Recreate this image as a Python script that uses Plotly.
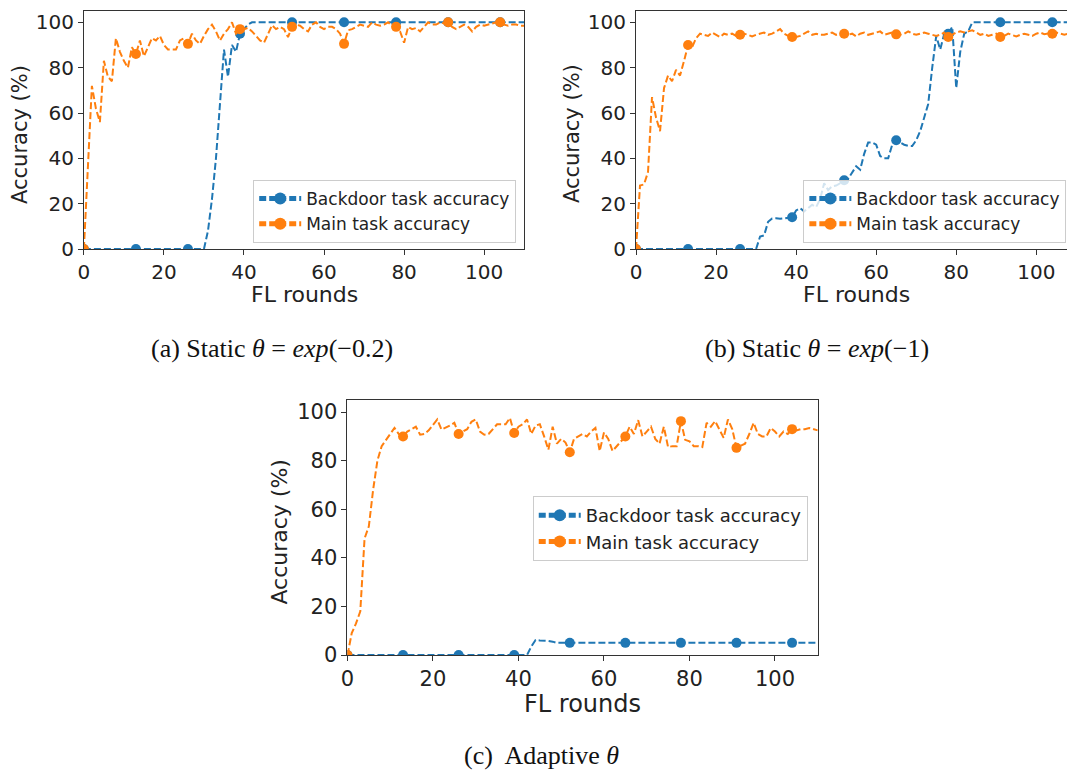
import plotly.graph_objects as go

rounds = list(range(0, 111))

# (a) Static theta = exp(-0.2)
a_backdoor = [0]*31 + [8, 22, 40, 62, 88, 76, 90, 87, 95, 97, 99] + [100]*69
a_main = [0, 38, 72, 62, 56, 83, 76, 74, 93, 87, 83, 80, 89, 86, 92, 85, 89, 93, 92, 94,
          90, 88, 88, 88, 92, 93, 90.5, 95, 92, 90.5, 94, 97, 99, 96, 92, 95, 97, 100, 95, 97,
          97, 97.6, 96, 94, 92, 91, 95, 98.7, 97, 98, 97, 93.5, 98, 99, 98.5, 97, 96, 99, 100, 98,
          97, 98, 98, 97, 95, 90.5, 96.5, 97, 98, 99, 98.5, 98, 100, 99, 98.5, 99, 100, 98.5, 98, 96,
          91, 98, 97, 97.5, 96, 98, 100, 99, 99, 100, 99.5, 100, 98, 97, 98, 99, 98, 96, 98, 99,
          98.5, 99, 99.5, 100, 100, 99, 98.5, 99, 99, 98.5, 98.5]

# (b) Static theta = exp(-1)
b_backdoor = [0]*31 + [5.5, 6, 12, 13.5, 13.6, 13.3, 13.5, 13.8, 14, 17, 18, 16.6, 18, 19.5, 18.5,
                       22, 29, 26, 27.7, 28, 29, 30.3, 31, 34, 36.5, 35, 42, 47, 47, 46, 41, 40, 40,
                       46, 48, 47, 46, 45.5, 45.4, 48, 52, 58, 64, 80, 94, 88, 95, 95, 98, 71, 87, 95,
                       96] + [100]*27
b_main = [0, 28, 28.5, 34, 67, 58, 52, 71, 76.5, 74, 79, 76.5, 83, 90, 89, 93, 95, 94.5, 94, 95.5,
          94.5, 93.5, 95, 94.5, 95, 94, 94.5, 95, 94.5, 93.8, 94.5, 95, 95.5, 94.5, 95, 96, 97, 95, 94, 93.5,
          93.5, 94, 95, 96, 94.5, 95, 94.5, 94.5, 95, 95.5, 94.5, 95, 95, 94.5, 95, 93.8, 95, 95.5, 94.5, 95,
          95.5, 96, 94.5, 95, 95.5, 94.7, 94.5, 95, 96, 95, 94.5, 95, 95.5, 95, 94.5, 94, 94.5, 95.5, 93.5, 94.5,
          95.5, 96, 95.5, 96, 96.5, 95.5, 94.5, 95, 94, 94.5, 95, 93.5, 94, 95, 94.5, 93.8, 94.5, 95, 94.5, 94,
          95, 95.5, 94.8, 95, 95, 95.5, 95, 94.5, 95, 95, 95]

# (c) Adaptive theta
c_backdoor = [0]*43 + [3.5, 6.2, 6, 6, 5.8, 5.5] + [5]*62
c_main = [0, 9, 13, 18, 48, 53, 68, 80, 86, 88.5, 91, 93.5, 91, 90, 92, 93, 94, 90.7, 91, 92.5,
          95, 97, 92.8, 93.5, 94.5, 95.6, 91, 92, 93, 96, 97, 92, 90.7, 91, 93, 95, 95, 95, 97.6, 91.4,
          94, 95, 97, 91, 94.5, 95, 90, 84.5, 94, 87, 89, 87.5, 83.5, 89, 90, 91, 90, 92, 93.5, 84,
          91.6, 89, 84, 86, 88, 90, 94, 91, 96.7, 90, 92, 94, 89, 87, 94, 85.6, 86, 86, 96.3, 88.6,
          88, 86, 86, 85.6, 95.6, 94, 96.3, 93, 89.4, 97, 93, 85.3, 86, 87, 91, 95.6, 91, 90, 90, 93.5,
          92, 90, 92, 91, 93, 92.5, 93, 93, 93.5, 93, 92.5]

x_ticks = [0, 20, 40, 60, 80, 100]
y_ticks = [0, 20, 40, 60, 80, 100]
series_names = ["Backdoor task accuracy", "Main task accuracy"]
captions = ["(a) Static <i>θ</i> = <i>exp</i>(−0.2)", "(b) Static <i>θ</i> = <i>exp</i>(−1)",
            "(c)  Adaptive <i>θ</i>"]

BLUE = "#1f77b4"
ORANGE = "#ff7f0e"
W, H = 1067, 774
FIG_H = 786
SANS = "DejaVu Sans"
TXT = "#222222"
SHIFT_X, SCALE_X = 5, 0.995


def px(sx):
    return ((sx - SHIFT_X) / SCALE_X) / W


def sx_of(pxv):
    return pxv * W * SCALE_X + SHIFT_X


def py(sy):
    return 1 - sy / H


marker_sizes = [10 if i % 13 == 0 else 0 for i in range(len(rounds))]

# panel geometry in screen pixels: left, right, top, bottom
panels = [
    dict(l=82, r=523, t=11, b=249, fs=1.0, leg=(515, 243), mirror_y=True),
    dict(l=635, r=1076, t=11, b=249, fs=1.0, leg=(1066, 243), mirror_y=False),
    dict(l=346, r=817, t=400, b=655, fs=1.07, leg=(807, 561), mirror_y=True),
]
data = [(a_backdoor, a_main), (b_backdoor, b_main), (c_backdoor, c_main)]

fig = go.Figure()
layout = {}
annotations = []

for i, (p, (bd, mn)) in enumerate(zip(panels, data)):
    k = "" if i == 0 else str(i + 1)
    legname = "legend" if i == 0 else f"legend{i + 1}"
    for name, ys, col in [(series_names[0], bd, BLUE), (series_names[1], mn, ORANGE)]:
        fig.add_trace(go.Scatter(
            x=rounds, y=ys, name=name, mode="lines+markers",
            line=dict(color=col, width=2, dash="7px,3px"),
            marker=dict(color=col, size=marker_sizes, symbol="circle", opacity=1,
                        line=dict(width=0, color=col)),
            xaxis="x" + k, yaxis="y" + k, legend=legname, showlegend=True,
        ))
    fs = p["fs"]
    full_w = p["r"] - p["l"]
    dom_r = min(px(p["r"]), 1.0)
    xr = 110 * (sx_of(dom_r) - p["l"]) / full_w
    layout["xaxis" + k] = dict(
        domain=[px(p["l"]), dom_r], range=[0, xr], anchor="y" + k,
        tickvals=x_ticks, ticks="outside", ticklen=5, tickcolor="#333",
        showline=True, linecolor="#333", linewidth=1, mirror=True,
        showgrid=False, zeroline=False,
        tickfont=dict(family=SANS, size=round(20 * fs), color=TXT),
    )
    layout["yaxis" + k] = dict(
        domain=[py(p["b"]), py(p["t"])], range=[0, 105], anchor="x" + k,
        tickvals=y_ticks, ticks="outside", ticklen=5, tickcolor="#333",
        showline=True, linecolor="#333", linewidth=1, mirror=p["mirror_y"],
        showgrid=False, zeroline=False,
        tickfont=dict(family=SANS, size=round(20 * fs), color=TXT),
    )
    lx, ly = p["leg"]
    layout[legname] = dict(
        x=min(px(lx), 1.0), y=py(ly), xanchor="right", yanchor="bottom",
        xref="paper", yref="paper",
        bgcolor="rgba(255,255,255,0.8)", bordercolor="#cccccc", borderwidth=1,
        font=dict(family=SANS, size=round(17 * fs), color=TXT),
        itemsizing="constant", itemwidth=42, tracegroupgap=0,
    )
    # axis titles
    cx = p["l"] + full_w / 2
    annotations.append(dict(
        text="FL rounds", x=px(cx), y=py(p["b"] + 46 * fs), xref="paper", yref="paper",
        showarrow=False, xanchor="center", yanchor="middle",
        font=dict(family=SANS, size=round(22 * fs), color=TXT)))
    annotations.append(dict(
        text="Accuracy (%)", x=px(p["l"] - 64 * fs), y=py((p["t"] + p["b"]) / 2 + 4),
        xref="paper", yref="paper", textangle=-90,
        showarrow=False, xanchor="center", yanchor="middle",
        font=dict(family=SANS, size=round(21 * fs), color=TXT)))

cap_pos = [(270, 348), (816, 348), (540, 755)]
for cap, (cx, cy) in zip(captions, cap_pos):
    annotations.append(dict(
        text=cap, x=px(cx), y=py(cy), xref="paper", yref="paper",
        showarrow=False, xanchor="center", yanchor="middle",
        font=dict(family="Liberation Serif", size=26, color="#111111")))

fig.update_layout(
    width=W, height=FIG_H, margin=dict(l=0, r=0, t=0, b=0),
    paper_bgcolor="white", plot_bgcolor="white",
    annotations=annotations, **layout,
)

fig.write_html("out.html", config={"displayModeBar": False},
               post_script="document.body.style.margin='0';document.body.style.overflow='hidden';")
